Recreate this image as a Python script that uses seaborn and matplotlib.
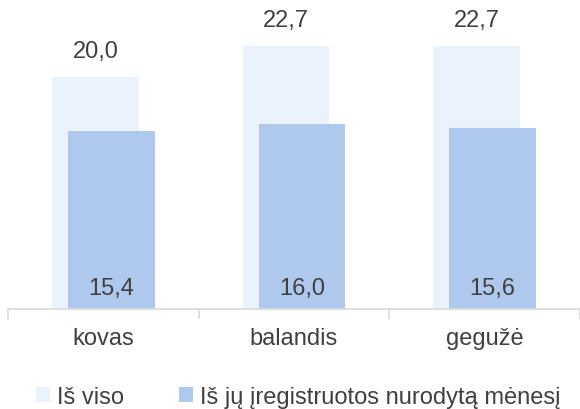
import numpy as np
import pandas as pd
import seaborn as sns
import matplotlib.pyplot as plt
from matplotlib.patches import Patch

sns.set_style("white")
plt.rcParams["font.family"] = ["Liberation Sans", "DejaVu Sans"]

# data
months = ["kovas", "balandis", "gegužė"]
total = [20.0, 22.7, 22.7]
registered = [15.4, 16.0, 15.6]
series_names = ["Iš viso", "Iš jų įregistruotos nurodytą mėnesį"]

c_back = "#eaf2fb"
c_front = "#aec8ee"
txt = "#404040"
fs = 17

pos = np.arange(len(months))
off = 0.042
df_back = pd.DataFrame({"x": pos - off, "y": total})
df_front = pd.DataFrame({"x": pos + off, "y": registered})

fig = plt.figure(figsize=(5.8, 4.1), dpi=100)
ax = fig.add_axes([0.014, 0.244, 0.986, 0.732])

sns.barplot(data=df_back, x="x", y="y", native_scale=True, width=0.455,
            color=c_back, saturation=1, linewidth=0, ax=ax)
sns.barplot(data=df_front, x="x", y="y", native_scale=True, width=0.455,
            color=c_front, saturation=1, linewidth=0, ax=ax)

# labels
for x, v in zip(df_back["x"], total):
    ax.text(x, v + 1.3, f"{v:.1f}".replace(".", ","), ha="center", va="bottom",
            fontsize=fs, color=txt)
for x, v in zip(df_front["x"], registered):
    ax.text(x, 1.8, f"{v:.1f}".replace(".", ","), ha="center", va="center",
            fontsize=fs, color=txt)

ax.set_xlim(-0.5, 2.5)
ax.set_ylim(0, 25.9)
ax.set_xticks(pos)
ax.set_xticklabels(months, fontsize=fs, color=txt)
ax.set_xticks(np.arange(-0.5, 2.6, 1), minor=True)
ax.tick_params(axis="x", which="major", length=0, pad=13)
ax.tick_params(axis="x", which="minor", length=7, width=1.2, color="#d9d9d9",
               direction="out", bottom=True)
ax.set_yticks([])
ax.set_xlabel("")
ax.set_ylabel("")
for s in ["top", "right", "left"]:
    ax.spines[s].set_visible(False)
ax.spines["bottom"].set_color("#d9d9d9")
ax.spines["bottom"].set_linewidth(1.2)

handles = [Patch(facecolor=c_back, edgecolor="none"),
           Patch(facecolor=c_front, edgecolor="none")]
fig.legend(handles, series_names, loc="center left", bbox_to_anchor=(0.062, 0.03),
           ncol=2, frameon=False, fontsize=fs, labelcolor=txt,
           handlelength=0.6, handleheight=0.6, handletextpad=0.3,
           columnspacing=2.3, borderaxespad=0, borderpad=0)

fig.savefig("out.png", dpi=100)
